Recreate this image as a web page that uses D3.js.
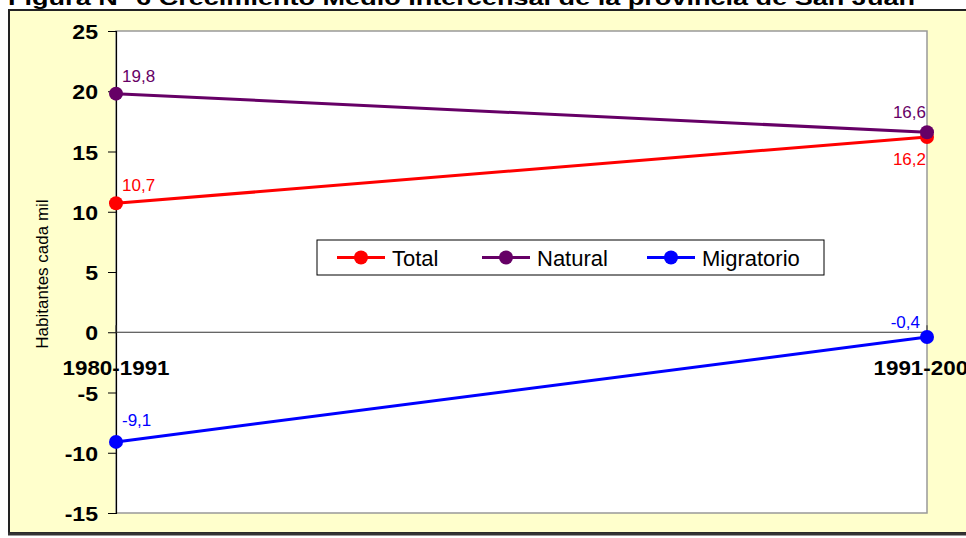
<!DOCTYPE html>
<html>
<head>
<meta charset="utf-8">
<script src="https://cdn.jsdelivr.net/npm/d3@7"></script>
<style>
  body { margin: 0; background: #fff; }
  svg text { font-family: Arial, "Liberation Sans", sans-serif; }
</style>
</head>
<body>
<div id="chart"></div>
<script>
const WIDTH = 966, HEIGHT = 538;
const TITLE = "Figura N° 6  Crecimiento Medio Intercensal de la provincia de San Juan";
const Y_LABEL = "Habitantes cada mil";

// data
const periods = ["1980-1991", "1991-2001"];
const seriesNames = ["Total", "Natural", "Migratorio"];
const totalValues = [10.7, 16.2];
const naturalValues = [19.8, 16.6];
const migratorioValues = [-9.1, -0.4];
const yTicks = [25, 20, 15, 10, 5, 0, -5, -10, -15];

const colors = { Total: "#ff0000", Natural: "#660066", Migratorio: "#0000ff" };
// label placement per point: [dx, dy, anchor]
const labelPos = {
    Total: [[6, -12, "start"], [-1, 28, "end"]],
    Natural: [[6, -12, "start"], [-1, -14, "end"]],
    Migratorio: [[6, -16, "start"], [-7, -9, "end"]]
};
const series = [
    { name: "Total", values: totalValues },
    { name: "Natural", values: naturalValues },
    { name: "Migratorio", values: migratorioValues }
];

const PLOT = { left: 116, right: 927, top: 31, bottom: 513 };
const fmtComma = v => d3.format(".1f")(v).replace("−", "-").replace(".", ",");

const svg = d3.select("#chart").append("svg")
    .attr("width", WIDTH).attr("height", HEIGHT);

// outer chart area
svg.append("rect")
    .attr("x", 9).attr("y", 10).attr("width", WIDTH + 10).attr("height", 523)
    .attr("fill", "#ffffcc").attr("stroke", "#222").attr("stroke-width", 2);
svg.append("line")
    .attr("x1", 8).attr("x2", WIDTH).attr("y1", 534).attr("y2", 534)
    .attr("stroke", "#333").attr("stroke-width", 3);

// title (clipped at top in the reference)
svg.append("text")
    .attr("x", 8).attr("y", 5)
    .attr("textLength", 907).attr("lengthAdjust", "spacingAndGlyphs")
    .attr("font-size", 20).attr("font-weight", "bold")
    .text(TITLE);

// plot area
svg.append("rect")
    .attr("x", PLOT.left).attr("y", PLOT.top)
    .attr("width", PLOT.right - PLOT.left).attr("height", PLOT.bottom - PLOT.top)
    .attr("fill", "#fff").attr("stroke", "#999").attr("stroke-width", 1.5);

const x = d3.scalePoint().domain(periods).range([PLOT.left, PLOT.right]);
const y = d3.scaleLinear().domain([-15, 25]).range([PLOT.bottom, PLOT.top]);

// y axis
const yAxis = svg.append("g")
    .attr("transform", `translate(${PLOT.left},0)`)
    .call(d3.axisLeft(y).tickValues(yTicks).tickSize(8).tickPadding(10).tickFormat(d => String(d)));
yAxis.select(".domain").attr("stroke", "#000").attr("stroke-width", 1.2);
yAxis.selectAll(".tick line").attr("stroke", "#000");
yAxis.selectAll(".tick text")
    .attr("font-size", 21).attr("font-weight", "bold").attr("fill", "#000")
    .attr("font-family", "Arial, 'Liberation Sans', sans-serif")
    .attr("transform", "scale(1.1,1)")
    .attr("x", -18 / 1.1)
    .attr("dy", "0.36em");

// category axis at zero
svg.append("line")
    .attr("x1", PLOT.left).attr("x2", PLOT.right)
    .attr("y1", y(0)).attr("y2", y(0))
    .attr("stroke", "#333").attr("stroke-width", 1.2);
svg.selectAll(".xtick").data(periods).join("line")
    .attr("class", "xtick")
    .attr("x1", d => x(d)).attr("x2", d => x(d))
    .attr("y1", y(0) - 7).attr("y2", y(0))
    .attr("stroke", "#333");
svg.selectAll(".xlabel").data(periods).join("text")
    .attr("class", "xlabel")
    .attr("transform", d => `translate(${x(d)},${y(0) + 43}) scale(1.12,1)`)
    .attr("text-anchor", "middle")
    .attr("font-size", 20).attr("font-weight", "bold")
    .text(d => d);

// y axis title
svg.append("text")
    .attr("transform", `translate(48,274) rotate(-90)`)
    .attr("text-anchor", "middle")
    .attr("font-size", 17)
    .text(Y_LABEL);

// lines
const line = d3.line().x((d, i) => x(periods[i])).y(d => y(d));
const g = svg.selectAll(".series").data(series).join("g").attr("class", "series");
g.append("path")
    .attr("d", d => line(d.values))
    .attr("fill", "none")
    .attr("stroke", d => colors[d.name])
    .attr("stroke-width", 3);
g.selectAll("circle").data(d => d.values.map((v, i) => ({ v, i, name: d.name })))
    .join("circle")
    .attr("cx", d => x(periods[d.i])).attr("cy", d => y(d.v))
    .attr("r", 7).attr("fill", d => colors[d.name]);
g.selectAll(".dlabel").data(d => d.values.map((v, i) => ({ v, i, name: d.name })))
    .join("text")
    .attr("class", "dlabel")
    .attr("x", d => x(periods[d.i]) + labelPos[d.name][d.i][0])
    .attr("y", d => y(d.v) + labelPos[d.name][d.i][1])
    .attr("text-anchor", d => labelPos[d.name][d.i][2])
    .attr("font-size", 17)
    .attr("fill", d => colors[d.name])
    .text(d => fmtComma(d.v));

// legend
const legend = svg.append("g").attr("transform", "translate(317,240)");
legend.append("rect")
    .attr("width", 507).attr("height", 35)
    .attr("fill", "#fff").attr("stroke", "#000").attr("stroke-width", 1);
const legendX = [20, 165, 330];
const items = legend.selectAll(".item").data(seriesNames).join("g")
    .attr("class", "item")
    .attr("transform", (d, i) => `translate(${legendX[i]},17.5)`);
items.append("line")
    .attr("x1", 0).attr("x2", 48)
    .attr("stroke", d => colors[d]).attr("stroke-width", 3);
items.append("circle")
    .attr("cx", 24).attr("r", 7).attr("fill", d => colors[d]);
items.append("text")
    .attr("x", 55).attr("y", 8)
    .attr("font-size", 22)
    .text(d => d);
</script>
</body>
</html>
